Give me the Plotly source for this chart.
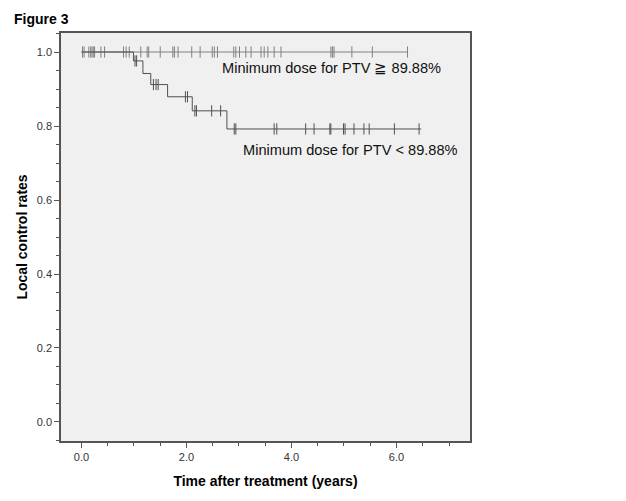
import plotly.graph_objects as go

# ---- data ----
upper_censor_times = [0.02, 0.05, 0.14, 0.175, 0.2, 0.225, 0.25, 0.37, 0.44, 0.80, 0.85, 0.91,
                      1.13, 1.25, 1.28, 1.50, 1.74, 1.77, 1.84, 2.10, 2.26, 2.49, 2.53, 2.59,
                      2.90, 2.94, 3.01, 3.13, 3.23, 3.42, 3.48, 3.55, 3.67, 3.80, 4.75, 4.78,
                      4.81, 5.15, 5.54, 6.21]
upper_end_time = 6.21

lower_event_times = [0.99, 1.17, 1.32, 1.64, 2.11, 2.77]
lower_event_values = [0.976, 0.942, 0.912, 0.879, 0.841, 0.792]
lower_end_time = 6.47
lower_censor_times = [1.02, 1.05, 1.37, 1.42, 1.46, 1.98, 2.02, 2.16, 2.19, 2.48, 2.65,
                      2.91, 2.94, 3.67, 3.72, 4.27, 4.43, 4.73, 4.75, 4.99, 5.02, 5.19,
                      5.38, 5.48, 5.96, 6.43]

x_tick_vals = [0, 2, 4, 6]
x_tick_text = ["0.0", "2.0", "4.0", "6.0"]
y_tick_vals = [0.0, 0.2, 0.4, 0.6, 0.8, 1.0]
y_tick_text = ["0.0", "0.2", "0.4", "0.6", "0.8", "1.0"]

label_upper = "Minimum dose for PTV \u2267 89.88%"
label_lower = "Minimum dose for PTV < 89.88%"


def surv_at(t):
    s = 1.0
    for et, ev in zip(lower_event_times, lower_event_values):
        if t >= et:
            s = ev
    return s


upper_col = "#808080"
lower_col = "#505050"
FONT = "Arial, Liberation Sans"

fig = go.Figure()
# upper group line
fig.add_trace(go.Scatter(x=[0, upper_end_time], y=[1.0, 1.0], mode="lines",
                         line=dict(color=upper_col, width=1), showlegend=False, hoverinfo="skip"))
fig.add_trace(go.Scatter(x=upper_censor_times, y=[1.0] * len(upper_censor_times), mode="markers",
                         marker=dict(symbol="line-ns-open", size=8, color=upper_col,
                                     line=dict(color=upper_col, width=1)),
                         showlegend=False))
# lower group step line
lx = [0] + lower_event_times + [lower_end_time]
ly = [1.0] + lower_event_values + [lower_event_values[-1]]
fig.add_trace(go.Scatter(x=lx, y=ly, mode="lines", line=dict(color=lower_col, width=1, shape="hv"),
                         showlegend=False, hoverinfo="skip"))
fig.add_trace(go.Scatter(x=lower_censor_times, y=[surv_at(t) for t in lower_censor_times], mode="markers",
                         marker=dict(symbol="line-ns-open", size=8, color=lower_col,
                                     line=dict(color=lower_col, width=1)),
                         showlegend=False))

fig.add_annotation(x=2.64, y=0.957, text=label_upper, showarrow=False, xanchor="left", yanchor="middle",
                   font=dict(family=FONT, size=14.6, color="#111"))
fig.add_annotation(x=3.04, y=0.735, text=label_lower, showarrow=False, xanchor="left", yanchor="middle",
                   font=dict(family=FONT, size=14.6, color="#111"))

fig.add_annotation(xref="paper", yref="paper", x=-0.12, y=1.0, yshift=14,
                   text="<b>Figure 3</b>", showarrow=False, xanchor="left", yanchor="middle",
                   font=dict(family=FONT, size=14, color="#000"))

axis_common = dict(showline=True, linecolor="#555", linewidth=1.5, mirror=True,
                   ticks="outside", ticklen=5, tickcolor="#555", tickwidth=1,
                   showgrid=False, zeroline=False, automargin=False,
                   tickfont=dict(family=FONT, size=11, color="#333"))

fig.update_xaxes(range=[-0.39, 7.40], tickvals=x_tick_vals, ticktext=x_tick_text,
                 minor=dict(dtick=0.5, tick0=0, ticks="outside", ticklen=3, tickcolor="#555", showgrid=False),
                 title=dict(text="<b>Time after treatment (years)</b>",
                            font=dict(family=FONT, size=14, color="#000"), standoff=14),
                 **axis_common)
fig.update_yaxes(range=[-0.0514, 1.0514], tickvals=y_tick_vals, ticktext=y_tick_text,
                 minor=dict(dtick=0.05, tick0=0, ticks="outside", ticklen=3, tickcolor="#555", showgrid=False),
                 title=dict(text="<b>Local control rates</b>",
                            font=dict(family=FONT, size=14, color="#000"), standoff=6),
                 **axis_common)

# page body has an 8px margin, so margins are offset to place the plot box at 61..470 x 33..441
fig.update_layout(width=626, height=501, margin=dict(l=53, r=164, t=25, b=68),
                  plot_bgcolor="#f0f0f0", paper_bgcolor="#ffffff")

fig.write_html("out.html")
